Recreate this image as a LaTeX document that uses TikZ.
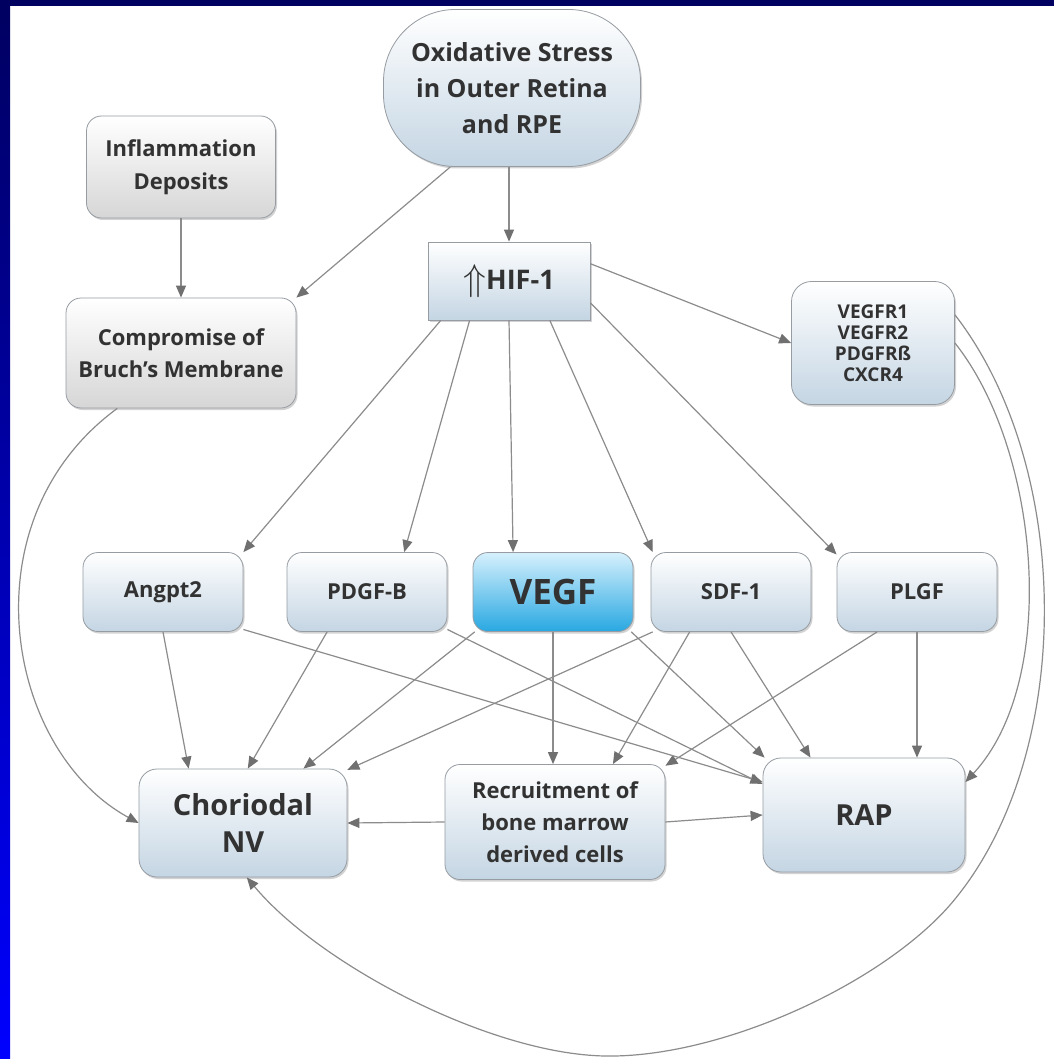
\documentclass[tikz,border=0pt]{standalone}
\usepackage{fontspec}
\setmainfont{Open Sans}
\usetikzlibrary{arrows.meta,shadows}
\definecolor{marco}{RGB}{0,0,96}
\definecolor{azul}{RGB}{0,0,255}
\definecolor{borde}{RGB}{150,156,162}
\definecolor{celeste}{RGB}{196,213,227}
\definecolor{grisclaro}{RGB}{214,214,214}
\definecolor{texto}{RGB}{50,50,50}
\definecolor{linea}{RGB}{140,140,140}
\definecolor{punta}{RGB}{112,112,112}
\definecolor{vegfarriba}{RGB}{214,240,252}
\definecolor{vegfabajo}{RGB}{40,168,226}
\begin{document}
\begin{tikzpicture}[x=1pt, y=-1pt,
  caja/.style={draw=borde, line width=0.8pt, rounded corners=15pt,
    top color=white, bottom color=celeste, text=texto, align=center,
    inner sep=0pt, minimum width=160pt, minimum height=79pt,
    font=\bfseries\fontsize{22}{32}\selectfont,
    drop shadow={shadow xshift=1.5pt, shadow yshift=-2pt, opacity=0.35}},
  gris/.style={caja, bottom color=grisclaro},
  grande/.style={caja, rounded corners=18pt, font=\bfseries\fontsize{29}{37}\selectfont},
  flecha/.style={draw=linea, line width=1.2pt, -{Triangle[length=12pt,width=10pt,color=punta]}}]
  % fondo y marco azul
  \useasboundingbox (0,0) rectangle (1054,1059);
  \fill[white] (0,0) rectangle (1054,1059);
  \shade[top color=marco, bottom color=azul] (0,0) rectangle (10,1059);
  \fill[marco] (0,0) rectangle (1054,6);
  % nodos de arriba
  \node[caja, rounded corners=72pt, minimum width=257pt, minimum height=157pt,
    font=\bfseries\fontsize{25}{36}\selectfont] (ox) at (512,88)
    {Oxidative Stress\\in Outer Retina\\and RPE};
  \node[gris, minimum width=189pt, minimum height=102pt, font=\bfseries\fontsize{22}{33}\selectfont]
    (infl) at (181,167) {Inflammation\\Deposits};
  \node[gris, minimum width=230pt, minimum height=110pt] (comp) at (181,353)
    {Compromise of\\Bruch's Membrane};
  \node[caja, rounded corners=0pt, minimum width=162pt, minimum height=78pt,
    font=\bfseries\fontsize{27}{32}\selectfont] (hif) at (509,281)
    {\raisebox{-1pt}{\scalebox{1.5}{$\Uparrow$}}HIF-1};
  \node[caja, rounded corners=20pt, minimum width=163pt, minimum height=123pt,
    font=\bfseries\fontsize{19}{21}\selectfont] (vegfr) at (873,343)
    {VEGFR1\\VEGFR2\\PDGFRß\\CXCR4};
  % factores
  \node[caja] (angpt) at (163,592) {Angpt2};
  \node[caja] (pdgfb) at (367,592) {PDGF-B};
  \node[caja, top color=vegfarriba, bottom color=vegfabajo,
    font=\bfseries\fontsize{35}{40}\selectfont] (vegf) at (553,592) {VEGF};
  \node[caja] (sdf) at (731,592) {SDF-1};
  \node[caja] (plgf) at (917,592) {PLGF};
  % nodos de abajo
  \node[grande, minimum width=208pt, minimum height=108pt] (chorio) at (243,823) {Choriodal\\NV};
  \node[caja, minimum width=220pt, minimum height=115pt] (recruit) at (555,822)
    {Recruitment of\\bone marrow\\derived cells};
  \node[grande, minimum width=202pt, minimum height=114pt] (rap) at (864,815) {RAP};
  % flechas de arriba
  \draw[flecha] (ox.south -| hif.north) -- (hif.north);
  \draw[flecha] (ox.-128) -- (comp.north east);
  \draw[flecha] (infl.south) -- (comp.north);
  \draw[flecha] (hif.12) -- (vegfr.west);
  \draw[flecha] (hif.-150) -- (angpt.north east);
  \draw[flecha] (hif.-135) -- (pdgfb.47);
  \draw[flecha] (hif.south) -- (vegf.135);
  \draw[flecha] (hif.-44) -- (sdf.153);
  \draw[flecha] (hif.-15) -- (plgf.155);
  % hacia Choriodal NV
  \draw[flecha] (angpt.south) -- (chorio.135);
  \draw[flecha] (pdgfb.-135) -- (chorio.85);
  \draw[flecha] (vegf.-153) -- (chorio.42);
  \draw[flecha] (sdf.-153) -- (chorio.27);
  \draw[flecha] (recruit.west) -- (chorio.east);
  \draw[flecha] (comp.-139) .. controls (-35,520) and (5,750) .. (chorio.west);
  % hacia Recruitment
  \draw[flecha] (vegf.south) -- (vegf.south |- recruit.north);
  \draw[flecha] (sdf.-136) -- (recruit.45);
  \draw[flecha] (plgf.-135) -- (recruit.27);
  % hacia RAP
  \draw[flecha] (angpt.-25) -- (rap.162);
  \draw[flecha] (pdgfb.-25) -- (rap.163);
  \draw[flecha] (vegf.-27) -- (rap.150);
  \draw[flecha] (sdf.south) -- (rap.133);
  \draw[flecha] (plgf.south) -- (plgf.south |- rap.north);
  \draw[flecha] (recruit.east) -- (rap.west);
  % curvas desde los receptores
  \draw[flecha] (vegfr.east) .. controls (1040,450) and (1060,680) .. (rap.18);
  \draw[flecha] (vegfr.19) .. controls (1075,470) and (1075,760) .. (950,905)
    .. controls (880,985) and (720,1058) .. (605,1056)
    .. controls (490,1054) and (320,965) .. (chorio.-86);
\end{tikzpicture}
\end{document}
